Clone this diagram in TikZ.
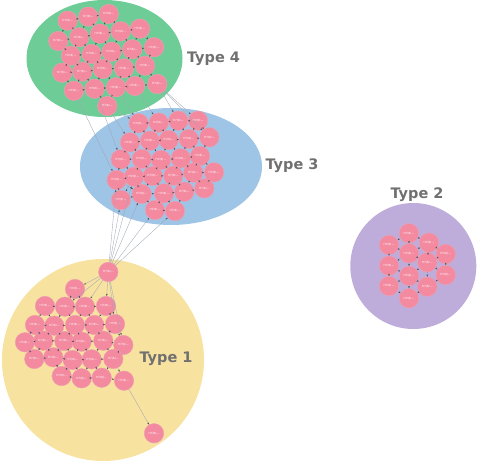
\documentclass[tikz,border=0pt]{standalone}
\usepackage{fontspec}
\setmainfont{DejaVu Sans}
\usetikzlibrary{arrows.meta}
\definecolor{grn}{RGB}{110,205,150}
\definecolor{blu}{RGB}{158,196,230}
\definecolor{pur}{RGB}{190,172,218}
\definecolor{yel}{RGB}{248,226,160}
\definecolor{pnk}{RGB}{243,138,160}
\definecolor{pnkb}{RGB}{236,160,178}
\definecolor{lblc}{RGB}{112,112,112}
\definecolor{edgc}{RGB}{160,168,182}
\definecolor{tipc}{RGB}{70,75,85}
\tikzset{
  vtx/.style={circle,fill=pnk,draw=pnkb,line width=0.4pt,minimum size=19.5pt,inner sep=0pt,
    font=\fontsize{2.8}{3}\selectfont,text=white},
  edge/.style={draw=edgc,line width=0.35pt,-{Stealth[length=2.2pt,width=1.6pt,color=tipc]}},
  typelbl/.style={font=\fontsize{14.5}{16}\selectfont\bfseries,text=lblc,inner sep=0pt}
}
\newcommand\placenodes[2]{%
  \foreach \n/\x/\y in {#2}{%
    \node[vtx] (#1\n) at (\x,\y) {H7(8)—};
    \expandafter\xdef\csname #1x\n\endcsname{\x}%
    \expandafter\xdef\csname #1y\n\endcsname{\y}%
  }}
\newcommand\meshedges[3]{%
  \foreach \i in {1,...,#2}{%
    \foreach \j in {1,...,#2}{%
      \ifnum\i<\j
        \edef\xa{\csname #1x\i\endcsname}\edef\xb{\csname #1x\j\endcsname}%
        \edef\ya{\csname #1y\i\endcsname}\edef\yb{\csname #1y\j\endcsname}%
        \pgfmathsetmacro\dd{veclen(\xa-\xb,\ya-\yb)}%
        \ifdim\dd pt<#3pt \draw[edge] (#1\i) -- (#1\j);\fi
      \fi
    }}}
\begin{document}
\begin{tikzpicture}[x=1pt,y=-1pt]
\useasboundingbox (0,0) rectangle (480,465);
% group backgrounds
\fill[grn] (104.5,58.5) ellipse [x radius=78, y radius=58.5];
\fill[blu] (171,166.5) ellipse [x radius=91, y radius=58.5];
\fill[pur] (413.3,266) circle [radius=63];
\fill[yel] (103,360) circle [radius=101];
% labels
\node[typelbl] (l4) at (213.5,59) {Type 4};
\node[typelbl] (l3) at (292,166) {Type 3};
\node[typelbl] (l2) at (417,195) {Type 2};
\node[typelbl] (l1) at (166,359) {Type 1};
% Type 4 nodes
\placenodes{a}{1/67.7/20.7, 2/88.3/16.7, 3/108.7/14, 4/58.3/41, 5/79.3/37.3, 6/100/33.7,
 7/120.7/31.3, 8/140/28.7, 9/71/55.7, 10/91.7/54, 11/111.7/51.7, 12/132.3/49.3, 13/154/47.3,
 14/62.3/72.7, 15/82.3/71.7, 16/102.7/69, 17/124/68.3, 18/145/65.7, 19/74/90.7, 20/94.7/88.7,
 21/116/87.3, 22/135/86, 23/157.3/84, 24/107.3/106}
% Type 3 nodes
\placenodes{b}{1/138.7/123.3, 2/158.7/122.7, 3/178.3/120.7, 4/198/120.7, 5/130/142.3,
 6/150/140.7, 7/168.7/140, 8/188.7/139, 9/209.3/137.3, 10/120.7/159.3, 11/141.7/159,
 12/161/160, 13/180.7/158.3, 14/200/156, 15/116.7/180, 16/134/176.7, 17/152.7/176,
 18/173.3/175.7, 19/193.3/172.7, 20/214/172.3, 21/141.7/194, 22/164/193.3, 23/184.3/191.7,
 24/204.3/188.3, 25/121/200, 26/155/210, 27/175/211}
% Type 2 nodes
\placenodes{c}{1/409/233.3, 2/389/245, 3/429/242.7, 4/409/253.3, 5/445.7/254, 6/389/265.7,
 7/427.3/262.3, 8/409/276, 9/445.7/275, 10/389/286, 11/427.3/286.7, 12/409/298.3}
% Type 1 nodes
\placenodes{d}{1/108.3/272, 2/75/289, 3/45/306, 4/65/306.7, 5/85/306.7, 6/106/306,
 7/35/325, 8/54.3/325.7, 9/75/325, 10/94.3/325, 11/115/324, 12/25/342.3, 13/43.3/340.7,
 14/64.3/341, 15/81.7/341.7, 16/103.3/340.7, 17/123.3/345, 18/34.3/359, 19/53.3/357.3,
 20/72.7/360, 21/91.7/359.3, 22/113.3/359, 23/61.7/376, 24/81.7/378.3, 25/101.7/377.7,
 26/124/380.7, 27/154/433.3}
% edges inside groups
\meshedges{a}{24}{31}
\meshedges{b}{27}{31}
\meshedges{c}{12}{31}
\meshedges{d}{26}{31}
% extra edges
\foreach \t in {2,4,5,6,11,17}{\draw[edge] (d1) -- (d\t);}
\draw[edge] (d26) -- (d27);
\foreach \t in {25,21,26,27,15,16}{\draw[edge] (d1) -- (b\t);}
\draw[edge] (a24) -- (b1);
\draw[edge] (a24) -- (b5);
\draw[edge] (a21) -- (b1);
\draw[edge] (a22) -- (b2);
\draw[edge] (a23) -- (b3);
\draw[edge] (a23) -- (b4);
\draw[edge] (a23) -- (b9);
\draw[edge] (a20) -- (b10);
\draw[edge] (a19) -- (b15);
\end{tikzpicture}
\end{document}
